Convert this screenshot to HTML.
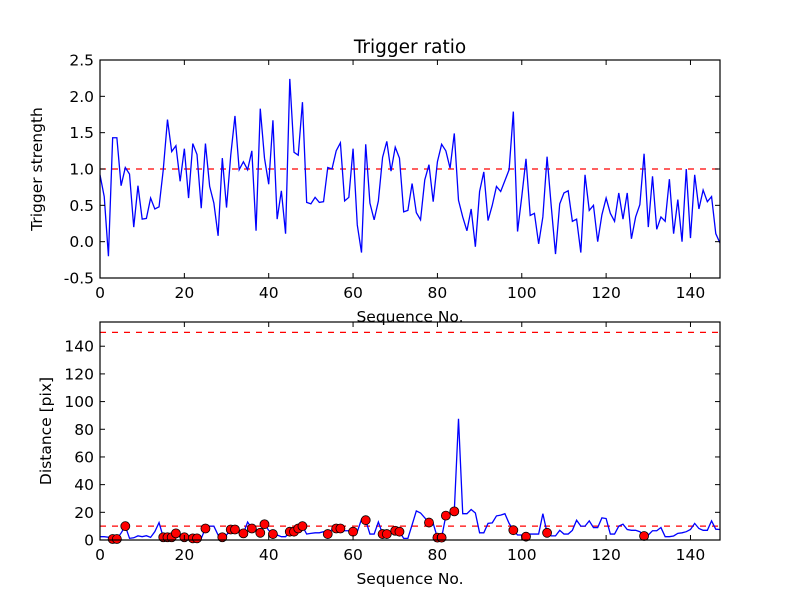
<!DOCTYPE html>
<html><head><meta charset="utf-8"><style>
html,body{margin:0;padding:0;background:#fff;}
svg{display:block;font-family:"DejaVu Sans","Liberation Sans",sans-serif;}
</style></head><body>
<svg id="fig" width="800" height="600" viewBox="0 0 800 600" xmlns="http://www.w3.org/2000/svg"></svg>
<script>
const ratio=[0.92,0.62,-0.2,1.43,1.43,0.77,1.02,0.93,0.2,0.77,0.31,0.32,0.6,0.45,0.48,0.99,1.68,1.24,1.32,0.83,1.28,0.6,1.35,1.2,0.46,1.35,0.76,0.53,0.08,1.15,0.47,1.19,1.73,0.99,1.1,0.99,1.25,0.15,1.83,1.15,0.79,1.67,0.31,0.7,0.11,2.24,1.23,1.19,1.92,0.54,0.52,0.61,0.54,0.55,1.02,1.0,1.25,1.36,0.56,0.61,1.28,0.23,-0.15,1.34,0.53,0.3,0.56,1.16,1.38,0.97,1.3,1.15,0.41,0.43,0.8,0.4,0.3,0.85,1.06,0.55,1.1,1.34,1.25,1.01,1.49,0.57,0.34,0.15,0.45,-0.07,0.69,0.96,0.29,0.5,0.76,0.69,0.84,0.99,1.79,0.14,0.62,1.14,0.36,0.39,-0.03,0.34,1.17,0.48,-0.17,0.52,0.67,0.7,0.28,0.31,-0.15,0.92,0.43,0.5,0.0,0.37,0.6,0.39,0.28,0.67,0.31,0.67,0.04,0.34,0.51,1.21,0.2,0.9,0.17,0.34,0.28,0.86,0.11,0.58,0.0,1.0,0.05,0.92,0.45,0.71,0.55,0.62,0.11,-0.02];
const dist=[2.4,2.4,2,0.7,0.7,5,10,1.2,1.6,3,2.4,3.1,1.9,6,12.6,2,2,2,4.8,2,2,2.4,1.2,1.2,1.2,8.3,10,10,3.6,2,3.6,7.6,7.6,7,4.8,13,8.3,7.6,5.2,11.4,7,4.3,3.6,2.4,2.4,6,6,8.3,10,4.3,4.8,5.2,5.2,6,4.3,7.6,8.3,8.3,6.7,6.7,6,6,15,14.3,4.3,4.3,13,4.3,4.3,5.2,6.7,6,1.2,1.2,11,21,19.5,16,12.6,12,1.7,1.7,17.6,19,20.7,87.6,19,19,22,19.5,5.2,5.2,12,12.4,17.4,18,19,12,7.1,3.6,3.6,2.4,4.3,4.3,4.3,19,5.2,3,3,7,4.3,4.3,7,14.3,10,10,13.8,9,9,16,15.5,4.3,4.3,10,11.4,7.6,7,7,6,2.9,3.6,6.7,6.7,9,2.4,2.4,2.9,4.8,5.2,6,7.6,12,8.3,7,7,13.8,7.8,7.6];
const dotIdx=[3,4,6,15,16,17,18,20,22,23,25,29,31,32,34,36,38,39,41,45,46,47,48,54,56,57,60,63,67,68,70,71,78,80,81,82,84,98,101,106,129];
const xTicks=[0,20,40,60,80,100,120,140];
const yTicksTop=[-0.5,0.0,0.5,1.0,1.5,2.0,2.5];
const yTicksBot=[0,20,40,60,80,100,120,140];
const ratioThreshold=[1.0];
const distThresholds=[10,150];

const NS="http://www.w3.org/2000/svg";
const svg=document.getElementById('fig');
function el(tag,attrs,parent){const e=document.createElementNS(NS,tag);for(const k in attrs)e.setAttribute(k,attrs[k]);(parent||svg).appendChild(e);return e;}
const L=100,R=720,XMAX=147;
const xs=v=>L+(v/XMAX)*(R-L);
function axes(top,bot,ymin,ymax,name){
  const ys=v=>bot-(v-ymin)/(ymax-ymin)*(bot-top);
  const g=el('g',{});
  
  
  return {ys,g,top,bot};
}
function frame(a,yt,fmt,yname){
  const g=a.g;
  xTicks.forEach(t=>{const x=xs(t);
    el('line',{x1:x,x2:x,y1:a.bot,y2:a.bot-5,stroke:'#000','stroke-width':1},g);
    el('line',{x1:x,x2:x,y1:a.top,y2:a.top+5,stroke:'#000','stroke-width':1},g);
    const tx=el('text',{x:x,y:a.bot+20,'text-anchor':'middle','font-size':15.5},g);tx.textContent=t;
    
    
  });
  yt.forEach(t=>{const y=a.ys(t);
    el('line',{x1:L,x2:L+5,y1:y,y2:y,stroke:'#000','stroke-width':1},g);
    el('line',{x1:R,x2:R-5,y1:y,y2:y,stroke:'#000','stroke-width':1},g);
    const tx=el('text',{x:L-6,y:y+5.5,'text-anchor':'end','font-size':15.5},g);tx.textContent=fmt(t);
    
    
  });
  const r=el('rect',{x:L,y:a.top,width:R-L,height:a.bot-a.top,fill:'none',stroke:'#000','stroke-width':1.2},g);
  
  
  const xl=el('text',{x:(L+R)/2,y:a.bot+44,'text-anchor':'middle','font-size':15.5},g);xl.textContent='Sequence No.';
  
  
  const cy=(a.top+a.bot)/2;
  const yl=el('text',{x:0,y:0,'text-anchor':'middle','font-size':15.5,transform:`translate(${yname[1]},${cy}) rotate(-90)`},g);yl.textContent=yname[0];
  
  
}
// top
const A=axes(60,278,-0.5,2.5,'ratio-chart');
ratioThreshold.forEach(v=>{const l=el('line',{x1:L,x2:R,y1:A.ys(v),y2:A.ys(v),stroke:'#f00','stroke-width':1.2,'stroke-dasharray':'6,6'},A.g);
  
  });
const p1=el('polyline',{points:ratio.map((v,i)=>xs(i)+','+A.ys(v)).join(' '),fill:'none',stroke:'#00f','stroke-width':1.3},A.g);


frame(A,yTicksTop,t=>t.toFixed(1),['Trigger strength',42]);
const tt=el('text',{x:410,y:53,'text-anchor':'middle','font-size':18.5});tt.textContent='Trigger ratio';


// bottom
const B=axes(322,540,0,157.5,'distance-chart');
distThresholds.forEach(v=>{const l=el('line',{x1:L,x2:R,y1:B.ys(v),y2:B.ys(v),stroke:'#f00','stroke-width':1.2,'stroke-dasharray':'6,6'},B.g);
  
  });
const p2=el('polyline',{points:dist.map((v,i)=>xs(i)+','+B.ys(v)).join(' '),fill:'none',stroke:'#00f','stroke-width':1.3},B.g);


dotIdx.forEach(i=>{const c=el('circle',{cx:xs(i),cy:B.ys(dist[i]),r:4.5,fill:'#f00',stroke:'#000','stroke-width':0.8},B.g);
  
  });
frame(B,yTicksBot,t=>String(t),['Distance [pix]',51]);
</script>
</body></html>
